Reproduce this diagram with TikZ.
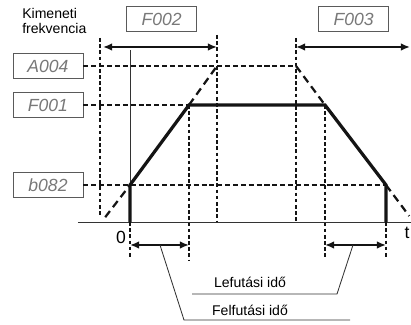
\documentclass[tikz,border=0pt]{standalone}
\usepackage{fontspec}
\setmainfont{Liberation Sans}
\usetikzlibrary{arrows.meta, positioning}
\definecolor{tagtext}{RGB}{120, 120, 120}
\definecolor{tagframe}{RGB}{90, 90, 90}
\definecolor{inkdark}{RGB}{20, 20, 20}

\tikzset{
  paramtag/.style={draw=tagframe, line width=0.6pt, minimum width=1.75cm, minimum height=0.62cm, inner sep=0pt, text=tagtext, font=\fontsize{12.5}{12.5}\selectfont\itshape},
  guide/.style={draw=inkdark, line width=1.4pt, dash pattern=on 2.6pt off 1.8pt},
  level/.style={draw=inkdark, line width=1.5pt, dash pattern=on 3.6pt off 2pt},
  ramp/.style={draw=inkdark, line width=1.6pt, dash pattern=on 5.5pt off 3.5pt},
  profile/.style={draw=inkdark, line width=2.3pt},
  span/.style={draw=inkdark, line width=1.5pt, {Latex[length=6.5pt,width=5.5pt]}-{Latex[length=6.5pt,width=5.5pt]}},
  thinline/.style={draw=black!80, line width=0.6pt}
}

\begin{document}
\begin{tikzpicture}
  \useasboundingbox (-3.25,-2.575) rectangle (7.025,5.55);

  % Parameter tags on the left and on top
  \node[paramtag] (f002) at (0.79, 5.075) {F002};
  \node[paramtag] (f003) at (5.59, 5.075) {F003};
  \node[paramtag] (a004) at (-2.05, 3.9) {A004};
  \node[paramtag] (f001) at (-2.05, 2.925) {F001};
  \node[paramtag] (b082) at (-2.05, 0.925) {b082};
  \node[anchor=north west, align=left, inner sep=0pt, font=\fontsize{10}{11.2}\selectfont] (fout) at (-2.7, 5.36) {Kimeneti\\frekvencia};

  % Key points of the frequency profile
  \coordinate (o) at (0, 0);
  \coordinate (start) at (0, 0.925);
  \coordinate (upend) at (1.475, 2.925);
  \coordinate (downbeg) at (4.875, 2.925);
  \coordinate (stop) at (6.4, 0.925);
  \coordinate (stopax) at (6.4, 0);
  \coordinate (rampzero) at (-0.62, 0.12);
  \coordinate (rampmax) at (2.175, 3.9);
  \coordinate (fallmax) at (4.15, 3.9);
  \coordinate (fallzero) at (6.98, 0.15);

  % Axes
  \coordinate (xbeg) at (-1.3, 0);
  \coordinate (xend) at (7.025, 0);
  \coordinate (ytop) at (0, 4.3);
  \draw[thinline] (xbeg) -- (xend);
  \draw[thinline] (o) -- (ytop);
  \node[font=\fontsize{12.5}{12.5}\selectfont] (zero) at (-0.225, -0.375) {0};
  \node[font=\fontsize{12.5}{12.5}\selectfont] (tlab) at (6.925, -0.275) {t};

  % Vertical guides
  \draw[guide] (-0.75, 4.6) -- (-0.75, 0.15);
  \draw[guide] (2.175, 4.675) -- (2.175, 0);
  \draw[guide] (4.15, 4.6) -- (4.15, 0);
  \draw[guide] (upend) -- (1.475, -0.95);
  \draw[guide] (downbeg) -- (4.875, -0.9);
  \draw[guide] (o) -- (0, -0.9);
  \draw[guide] (stopax) -- (6.4, -0.9);

  % Frequency levels
  \draw[level] (a004.east) -- (fallmax);
  \draw[level] (f001.east) -- (upend);
  \draw[level] (b082.east) -- (stop);

  % Ramp extensions
  \draw[ramp] (rampzero) -- (start);
  \draw[ramp] (upend) -- (rampmax);
  \draw[ramp] (fallmax) -- (downbeg);
  \draw[ramp] (stop) -- (fallzero);

  % Output frequency
  \draw[profile] (o) -- (start) -- (upend) -- (downbeg) -- (stop) -- (stopax);

  % Time spans
  \coordinate (f002a) at (-0.675, 4.375);
  \coordinate (f002b) at (2.175, 4.375);
  \coordinate (f003a) at (4.15, 4.375);
  \coordinate (f003b) at (7.0, 4.375);
  \coordinate (accla) at (0, -0.575);
  \coordinate (acclb) at (1.475, -0.575);
  \coordinate (decla) at (4.875, -0.575);
  \coordinate (declb) at (6.4, -0.575);
  \draw[span] (f002a) -- (f002b);
  \draw[span] (f003a) -- (f003b);
  \draw[span] (accla) -- (acclb);
  \draw[span] (decla) -- (declb);

  % Callouts
  \node[font=\fontsize{10}{10}\selectfont] (lefut) at (3.0, -1.52) {Lefutási idő};
  \node[font=\fontsize{10}{10}\selectfont] (felfut) at (3.0, -2.22) {Felfutási idő};
  \coordinate (acclmid) at (0.75, -0.575);
  \coordinate (declmid) at (5.575, -0.575);
  \draw[thinline] (acclmid) -- (1.35, -2.45) -- (5.5, -2.45);
  \draw[thinline] (declmid) -- (5.175, -1.8) -- (1.55, -1.8);
\end{tikzpicture}
\end{document}
